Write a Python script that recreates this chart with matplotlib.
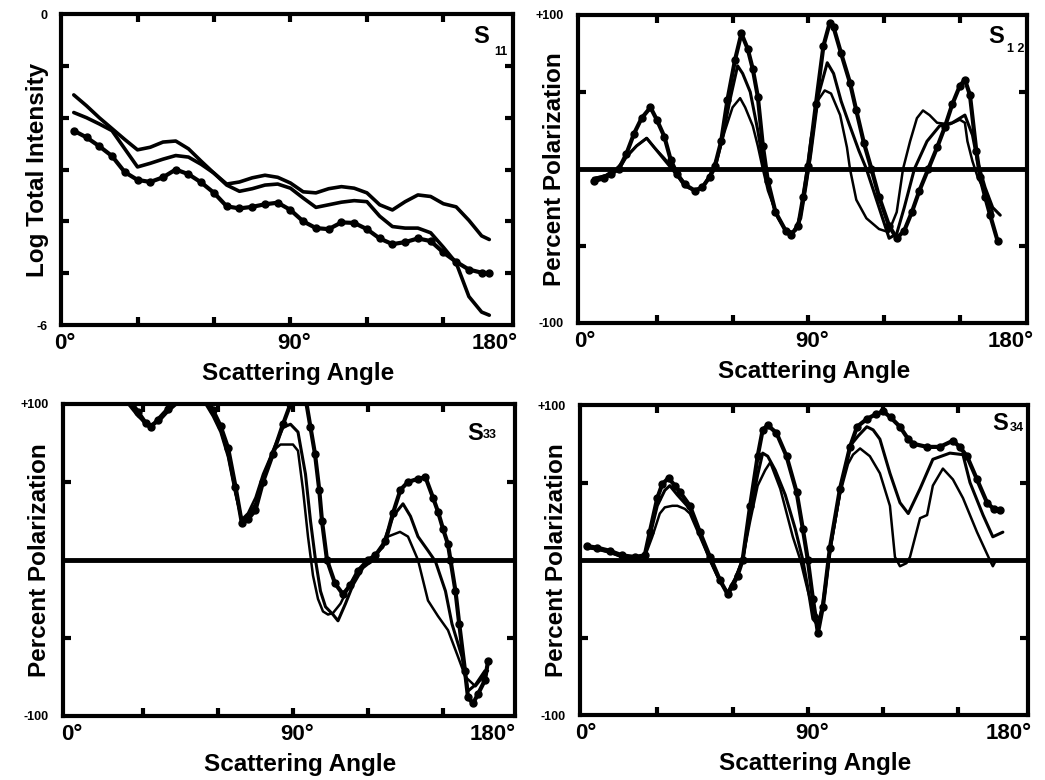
import matplotlib
matplotlib.use("Agg")
import matplotlib.pyplot as plt

plt.rcParams['font.family'] = ['Liberation Sans', 'DejaVu Sans']
plt.rcParams['font.weight'] = 'bold'

# ---- S11 : log total intensity (common angle grid) ----
s11_angle = [5, 10, 15, 20, 25, 30, 35, 40, 45, 50, 55, 60, 65, 70, 75, 80, 85,
             90, 95, 100, 105, 110, 115, 120, 125, 130, 135, 140, 145, 150, 155,
             160, 165, 168]
s11_top = [-1.56, -1.77, -2.0, -2.21, -2.42, -2.62, -2.57, -2.47, -2.45, -2.6,
           -2.84, -3.07, -3.28, -3.24, -3.16, -3.11, -3.15, -3.26, -3.43, -3.45,
           -3.37, -3.33, -3.36, -3.45, -3.68, -3.78, -3.62, -3.49, -3.52, -3.66,
           -3.72, -3.98, -4.28, -4.35]
s11_mid = [-1.9, -2.0, -2.12, -2.25, -2.6, -2.95, -2.88, -2.8, -2.73, -2.76,
           -2.9, -3.07, -3.3, -3.42, -3.37, -3.3, -3.28, -3.36, -3.55, -3.73,
           -3.68, -3.63, -3.6, -3.62, -3.9, -4.1, -4.13, -4.13, -4.22, -4.5,
           -4.8, -5.45, -5.75, -5.81]
s11_dot = [-2.25, -2.38, -2.55, -2.74, -3.05, -3.2, -3.24, -3.15, -3.0, -3.09,
           -3.25, -3.45, -3.71, -3.75, -3.72, -3.67, -3.64, -3.78, -4.0, -4.13,
           -4.15, -4.02, -4.03, -4.15, -4.33, -4.44, -4.4, -4.33, -4.38, -4.6,
           -4.78, -4.93, -4.99, -5.0]

# ---- S12 : percent polarization ----
s12_dot_angle = [5, 9, 12, 15, 18, 21, 24, 27.5, 30, 33, 35.5, 38, 41, 45, 48, 51,
                 53, 55.5, 58, 61, 63.5, 66, 68, 70, 72, 74, 77, 81, 83, 86, 88, 90,
                 93, 96, 98.5, 100, 103, 106.5, 109, 112, 115, 118, 122, 125, 128,
                 131, 134, 137.5, 141, 144, 147, 150, 152, 154, 156.5, 158, 160,
                 162, 165]
s12_dot = [-8, -6, -3, 0, 10, 23, 33, 40, 32, 21, 6, -3, -10, -14, -12, -5,
           2, 18, 45, 71, 88, 78, 65, 47, 15, -8, -28, -40, -43, -37, -18, 2,
           42, 80, 95, 92, 75, 56, 38, 17, 0, -18, -37, -45, -40,
           -28, -14, 0, 14, 27, 42, 54, 58, 48, 12, -5, -18,
           -30, -47]
s12_mid_angle = [5, 9, 12, 15, 18, 22, 26, 29, 32, 35, 38, 41, 45, 48, 51, 53, 56,
                 59, 62, 64, 67, 70, 72, 74, 77, 81, 84, 87, 89, 91, 94, 97.5, 100,
                 103, 106, 110, 113, 116, 119, 122, 125, 128, 132, 137, 142, 147,
                 152, 155, 157, 160, 163, 166]
s12_mid = [-6, -5, -2, 0, 8, 15, 20, 14, 8, 2, -4, -11, -14, -12, -5, 0, 20,
           45, 67, 62, 50, 25, 5, -10, -28, -40, -41, -32, -12, 10, 48, 69, 62,
           44, 30, 12, 0, -15, -30, -45, -42, -25, 0, 18, 28, 30,
           35, 22, 5, -12, -25, -30]
s12_low_angle = [5, 10, 14, 18, 22, 26, 29, 33, 36, 39, 42, 45, 48, 51, 54, 57,
                 60, 63, 65, 68, 70, 72, 74, 78, 82, 85, 87, 89, 91, 94, 96.5, 99,
                 102.6, 105.3, 106.5, 109, 113, 118, 121.8, 125, 127.5, 130.3, 133,
                 135.4, 138, 141, 146, 150, 152, 153, 155, 157, 160, 163]
s12_low = [-6, -4, 0, 8, 15, 20, 14, 7, 1, -5, -11, -14, -12, -4, 8, 25,
           40, 46, 40, 28, 15, 0, -14, -32, -42, -40, -28, -5, 20, 45, 51, 49,
           35, 14, 0, -20, -32, -39, -41, -28, 0, 18, 33,
           38, 35, 30, 29, 32, 30, 18, 5, -5, -15, -28]

# ---- S33 : percent polarization ----
s33_dot_angle = [3, 10, 18, 24, 28, 31, 33, 36, 40, 45, 50, 55, 58, 61, 64, 67,
                 69.5, 72, 75, 78, 82, 86, 89, 92, 95, 97, 98.8, 100.5, 101.6,
                 103.6, 106.8, 110, 113, 116, 120, 123, 127, 130, 133, 136, 140,
                 143, 146, 148, 150, 152, 153, 155, 156.5, 158.8, 160, 162, 164,
                 166.8, 168]
s33_dot = [118, 118, 113, 104, 95, 88, 85, 90, 97, 106, 110, 104, 96, 86, 72, 47,
           24, 26, 32, 50, 68, 87, 100, 108, 104, 85, 68, 45, 25,
           0, -15, -22, -16, -7, 0, 3, 12, 30, 45, 50, 52,
           53, 40, 31, 20, 10, 0, -20, -41, -71, -88, -92, -86,
           -77, -65]
s33_mid_angle = [3, 10, 18, 24, 28, 31, 33, 36, 40, 45, 50, 55, 58, 61, 64, 67,
                 69.5, 72, 75, 78, 82, 86, 89, 92, 95, 97, 99, 101, 103, 106, 108,
                 111, 114, 118, 122, 126, 130, 134, 137, 140, 144, 147, 151, 153.6,
                 157.6, 160, 163, 166.8]
s33_mid = [115, 116, 111, 102, 93, 87, 86, 89, 96, 104, 108, 102, 94, 84, 68, 44,
           25, 28, 36, 52, 70, 85, 87, 82, 55, 25, 0, -20, -30, -35, -39,
           -28, -16, -5, 0, 10, 28, 36, 28, 15, 6, -1, -20, -41,
           -62, -84, -80, -71]
s33_low_angle = [3, 10, 18, 24, 28, 31, 33, 36, 40, 45, 50, 55, 58, 61, 64, 67,
                 69.5, 72, 75, 78, 82, 85, 90, 92, 94, 96, 98, 100, 102, 104, 106,
                 109, 113, 117, 122, 126, 128, 132.8, 136, 140, 144, 148, 152, 156,
                 159, 163, 168]
s33_low = [112, 114, 109, 100, 92, 88, 87, 88, 95, 102, 106, 100, 92, 82, 66, 42,
           26, 30, 40, 55, 70, 74, 74, 70, 45, 15, -10, -25, -33, -35, -34,
           -28, -15, -5, 2, 8, 15, 18, 15, 0, -26, -36, -45, -62,
           -75, -81, -71]

# ---- S34 : percent polarization ----
s34_dot_angle = [2, 6, 11, 16, 21, 25, 27, 30, 32, 34.5, 37, 39, 43, 47, 51, 55,
                 58, 60, 62, 64, 67, 70, 72, 74, 77.5, 81.5, 85.5, 88, 90, 92, 94,
                 96, 98.8, 102.8, 106.8, 109.6, 113.5, 117, 120, 123, 126.7, 130,
                 132, 137.5, 142.6, 147.8, 150.5, 153.4, 157.4, 161.4, 164, 166.5]
s34_dot = [9, 8, 6, 3, 2, 3, 18, 40, 49, 53, 48, 44, 35, 18, 2, -13,
           -22, -17, -10, 0, 35, 67, 84, 87, 82, 67, 44, 20, 0, -25, -47,
           -30, 8, 46, 73, 86, 91, 94, 96, 92, 86, 78,
           75, 73, 73, 77, 73, 67, 52, 37, 33, 32]
s34_mid_angle = [2, 6, 11, 16, 21, 25, 27, 30, 33, 35, 38, 43, 47, 51, 55, 58, 61,
                 64, 67, 70, 72, 74, 77, 81, 85, 88, 90, 92, 94, 96, 99, 103, 107,
                 110, 113.5, 116, 118.7, 122.7, 126.7, 130, 134.7, 139.8, 146.6,
                 151.8, 154.6, 159.8, 163.7, 167.7]
s34_mid = [8, 7, 5, 2, 1, 3, 15, 35, 45, 48, 42, 33, 17, 0, -14, -21, -12,
           0, 30, 55, 69, 67, 58, 42, 20, 0, -18, -38, -42, -28, 8, 46, 74,
           80, 86, 84, 78, 56, 37, 30, 46, 65, 69,
           68, 50, 29, 15, 18]
s34_low_angle = [2, 6, 11, 16, 21, 25, 28, 31, 33, 36, 38, 41, 43, 47, 51, 55, 58,
                 61, 64, 67, 70, 73, 75, 79, 84, 87, 90, 92, 95, 97, 99, 103, 106,
                 108, 110.8, 114.7, 118.7, 122.7, 124.7, 126.7, 129.3, 130.7, 134.7,
                 137.5, 139.8, 143.8, 147.8, 151.8, 157.4, 162.5, 163.7, 165]
s34_low = [8, 7, 5, 2, 1, 2, 15, 30, 34, 35, 35, 33, 30, 15, 0, -14, -21,
           -12, 0, 25, 48, 58, 63, 46, 15, 0, -20, -32, -39, -20, 8, 44, 62,
           68, 72, 67, 56, 35, 2, -4, -2, 2, 27,
           29, 48, 59, 52, 40, 18, 0, -4, 0]

panels = [
    dict(rect=[0.0584, 0.5833, 0.4325, 0.3987], xlim=(0, 177.3), ylim=(-6, 0),
         ylabel='Log Total Intensity', yticks=[0, -6], ylabels=['0', '-6'],
         yminor=[-1, -2, -3, -4, -5], zero=False, name='11',
         spos=(0.912, 0.965), subpos=(0.958, 0.878),
         curves=[(s11_angle, s11_top, False, 2.6), (s11_angle, s11_mid, False, 2.6),
                 (s11_angle, s11_dot, True, 3.0)]),
    dict(rect=[0.5531, 0.5859, 0.4297, 0.3949], xlim=(-1.2, 176.6), ylim=(-100, 100),
         ylabel='Percent Polarization', yticks=[100, -100], ylabels=['+100', '-100'],
         yminor=[50, -50], zero=True, name='1 2',
         spos=(0.913, 0.968), subpos=(0.955, 0.89),
         curves=[(s12_low_angle, s12_low, False, 1.8), (s12_mid_angle, s12_mid, False, 2.2),
                 (s12_dot_angle, s12_dot, True, 3.0)]),
    dict(rect=[0.0603, 0.0821, 0.4325, 0.4], xlim=(-2, 178.8), ylim=(-100, 100),
         ylabel='Percent Polarization', yticks=[100, -100], ylabels=['+100', '-100'],
         yminor=[50, -50], zero=True, name='33',
         spos=(0.894, 0.942), subpos=(0.929, 0.9),
         curves=[(s33_low_angle, s33_low, False, 1.8), (s33_mid_angle, s33_mid, False, 2.2),
                 (s33_dot_angle, s33_dot, True, 3.0)]),
    dict(rect=[0.555, 0.0833, 0.4287, 0.3974], xlim=(-0.8, 177.7), ylim=(-100, 100),
         ylabel='Percent Polarization', yticks=[100, -100], ylabels=['+100', '-100'],
         yminor=[50, -50], zero=True, name='34',
         spos=(0.92, 0.977), subpos=(0.96, 0.926),
         curves=[(s34_low_angle, s34_low, False, 1.8), (s34_mid_angle, s34_mid, False, 2.2),
                 (s34_dot_angle, s34_dot, True, 3.0)]),
]

fig = plt.figure(figsize=(10.45, 7.8), dpi=100)

for p in panels:
    ax = fig.add_axes(p['rect'])
    for ang, val, dots, lw in p['curves']:
        if dots:
            ax.plot(ang, val, color='black', lw=lw, marker='o', ms=5,
                    solid_joinstyle='round', solid_capstyle='round')
        else:
            ax.plot(ang, val, color='black', lw=lw,
                    solid_joinstyle='round', solid_capstyle='round')
    if p['zero']:
        ax.axhline(0, color='black', lw=3.5)

    ax.set_xlim(p['xlim'])
    ax.set_ylim(p['ylim'])
    for s in ax.spines.values():
        s.set_linewidth(3)

    # labelled ends without marks, inner marks as minor ticks
    ax.set_xticks([1.5, 91.5, 170])
    ax.set_xticklabels(['0°', '90°', '180°'], fontsize=16, fontweight='bold')
    ax.set_xticks([30, 60, 90, 120, 150], minor=True)
    ax.set_yticks(p['yticks'])
    ax.set_yticklabels(p['ylabels'], fontsize=9, fontweight='bold')
    ax.set_yticks(p['yminor'], minor=True)
    ax.tick_params(which='major', length=0)
    ax.tick_params(axis='x', which='major', pad=6)
    ax.tick_params(axis='y', which='major', pad=10)
    ax.tick_params(which='minor', direction='in', length=6, width=3,
                   top=True, right=True)

    ax.set_xlabel('Scattering Angle', fontsize=17.5, fontweight='bold')
    ax.xaxis.set_label_coords(0.525, -0.12)
    ax.set_ylabel(p['ylabel'], fontsize=17.5, fontweight='bold')
    ax.yaxis.set_label_coords(-0.026, 0.5)

    ax.text(p['spos'][0], p['spos'][1], 'S', transform=ax.transAxes,
            fontsize=17, ha='left', va='top')
    ax.text(p['subpos'][0], p['subpos'][1], p['name'], transform=ax.transAxes,
            fontsize=9, ha='left', va='center')

plt.savefig('out.png', dpi=100)
